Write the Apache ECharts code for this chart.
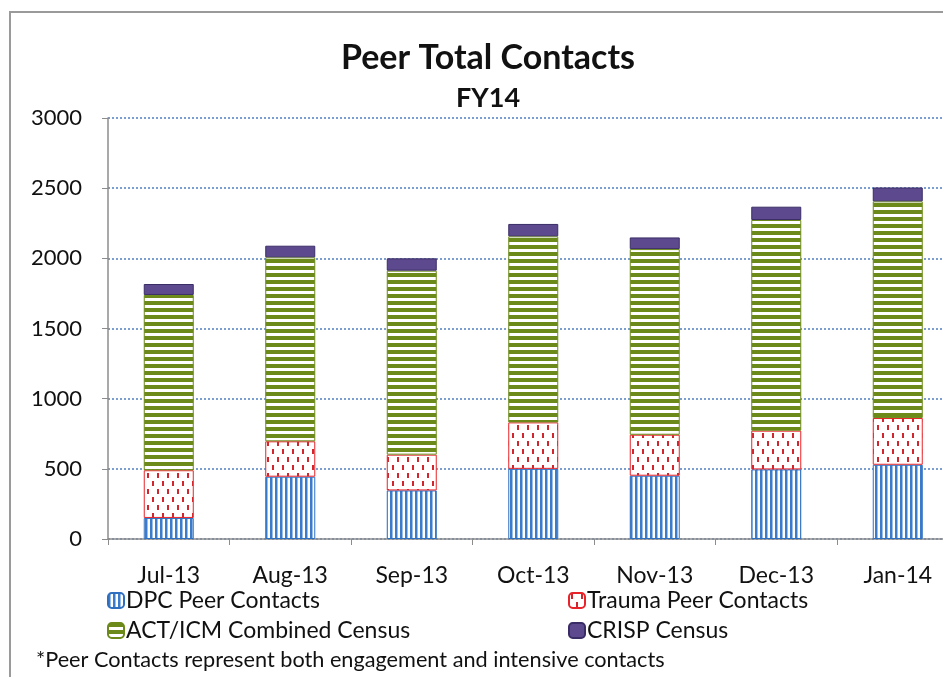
<!DOCTYPE html>
<html>
<head>
<meta charset="utf-8">
<script src="https://cdn.jsdelivr.net/npm/echarts@6/dist/echarts.min.js"></script>
<style>
  html, body { margin: 0; padding: 0; background: #fff; overflow: hidden; }
  #chart { width: 960px; height: 677px; }
</style>
</head>
<body>
<div id="chart"></div>
<script>
// data
const months = ["Jul-13", "Aug-13", "Sep-13", "Oct-13", "Nov-13", "Dec-13", "Jan-14"];
const dpcPeer = [150, 444, 346, 500, 451, 496, 529];
const traumaPeer = [340, 252, 255, 331, 292, 276, 333];
const actIcm = [1249, 1311, 1311, 1326, 1323, 1501, 1544];
const crisp = [78, 83, 88, 88, 83, 95, 99];
const yTicks = [0, 500, 1000, 1500, 2000, 2500, 3000];

const FONT = "Lato, 'DejaVu Sans', sans-serif";

// little canvas patterns for the excel-ish hatch fills
const makePattern = (w, h, draw) => {
  const c = document.createElement("canvas");
  c.width = w;
  c.height = h;
  const ctx = c.getContext("2d");
  ctx.fillStyle = "#fff";
  ctx.fillRect(0, 0, w, h);
  draw(ctx);
  return { image: c, repeat: "repeat" };
};

const dpcFill = makePattern(5, 10, (ctx) => {
  ctx.fillStyle = "#3a7ccb";
  ctx.fillRect(0, 0, 2.5, 10);
});
const traumaFill = makePattern(10, 16, (ctx) => {
  ctx.fillStyle = "#d0262e";
  ctx.fillRect(2, 1, 2, 5);
  ctx.fillRect(7, 9, 2, 5);
});
const actFill = makePattern(8, 7, (ctx) => {
  ctx.fillStyle = "#6c8a1a";
  ctx.fillRect(0, 0, 8, 4);
});

const chart = echarts.init(document.getElementById("chart"));

const barSeries = (name, data, fill, border) => ({
  name: name,
  type: "bar",
  stack: "total",
  barWidth: 50,
  data: data,
  itemStyle: { color: fill, borderColor: border, borderWidth: 1 },
  emphasis: { disabled: true }
});

const legendText = { fontFamily: FONT, fontSize: 23, color: "#111", padding: [0, 0, 0, -3] };

const option = {
  animation: false,
  textStyle: { fontFamily: FONT },
  title: [
    {
      text: "Peer Total Contacts",
      left: 483,
      textAlign: "center",
      top: 36,
      textStyle: { fontFamily: FONT, fontSize: 34, fontWeight: "bold", color: "#111" }
    },
    {
      text: "FY14",
      left: 483,
      textAlign: "center",
      top: 80,
      textStyle: { fontFamily: FONT, fontSize: 27, fontWeight: "bold", color: "#111" }
    }
  ],
  // container is 960 wide so the last category runs off the 943px window like the original
  grid: { left: 108, top: 118, right: 1.5, bottom: 138 },
  legend: [
    {
      data: ["DPC Peer Contacts", "ACT/ICM Combined Census"],
      orient: "vertical",
      left: 102,
      top: 584,
      itemWidth: 16,
      itemHeight: 15,
      itemGap: 7,
      textStyle: legendText
    },
    {
      data: ["Trauma Peer Contacts", "CRISP Census"],
      orient: "vertical",
      left: 563,
      top: 584,
      itemWidth: 16,
      itemHeight: 15,
      itemGap: 7,
      textStyle: legendText
    }
  ],
  xAxis: {
    type: "category",
    data: months,
    axisLine: { lineStyle: { color: "#8c8c8c", width: 1.5 } },
    axisTick: { show: true, length: 6, lineStyle: { color: "#8c8c8c" } },
    axisLabel: { fontFamily: FONT, fontSize: 23, color: "#111", margin: 25 }
  },
  yAxis: {
    type: "value",
    min: yTicks[0],
    max: yTicks[yTicks.length - 1],
    interval: yTicks[1] - yTicks[0],
    axisLine: { show: true, lineStyle: { color: "#8c8c8c", width: 1.5 } },
    axisTick: { show: true, length: 6, lineStyle: { color: "#8c8c8c" } },
    axisLabel: {
      fontFamily: FONT,
      fontSize: 22,
      color: "#111",
      margin: 26,
      formatter: (v) => String(v)
    },
    splitLine: { lineStyle: { color: "#4f7fc0", type: [2, 2], width: 1.5 } }
  },
  series: [
    barSeries("DPC Peer Contacts", dpcPeer, dpcFill, "#2f6fc0"),
    barSeries("Trauma Peer Contacts", traumaPeer, traumaFill, "#e8242a"),
    barSeries("ACT/ICM Combined Census", actIcm, actFill, "#6c8a1a"),
    barSeries("CRISP Census", crisp, "#5d4a8e", "#3a2d66")
  ],
  graphic: [
    {
      type: "rect",
      shape: { x: 10, y: 12, width: 1000, height: 1000 },
      style: { fill: "none", stroke: "#9a9a9a", lineWidth: 2 },
      silent: true
    },
    {
      type: "text",
      left: 36,
      top: 649,
      style: {
        text: "*Peer Contacts represent both engagement and intensive contacts",
        font: "21.7px " + FONT,
        fill: "#111"
      }
    }
  ]
};

chart.setOption(option);
</script>
</body>
</html>
